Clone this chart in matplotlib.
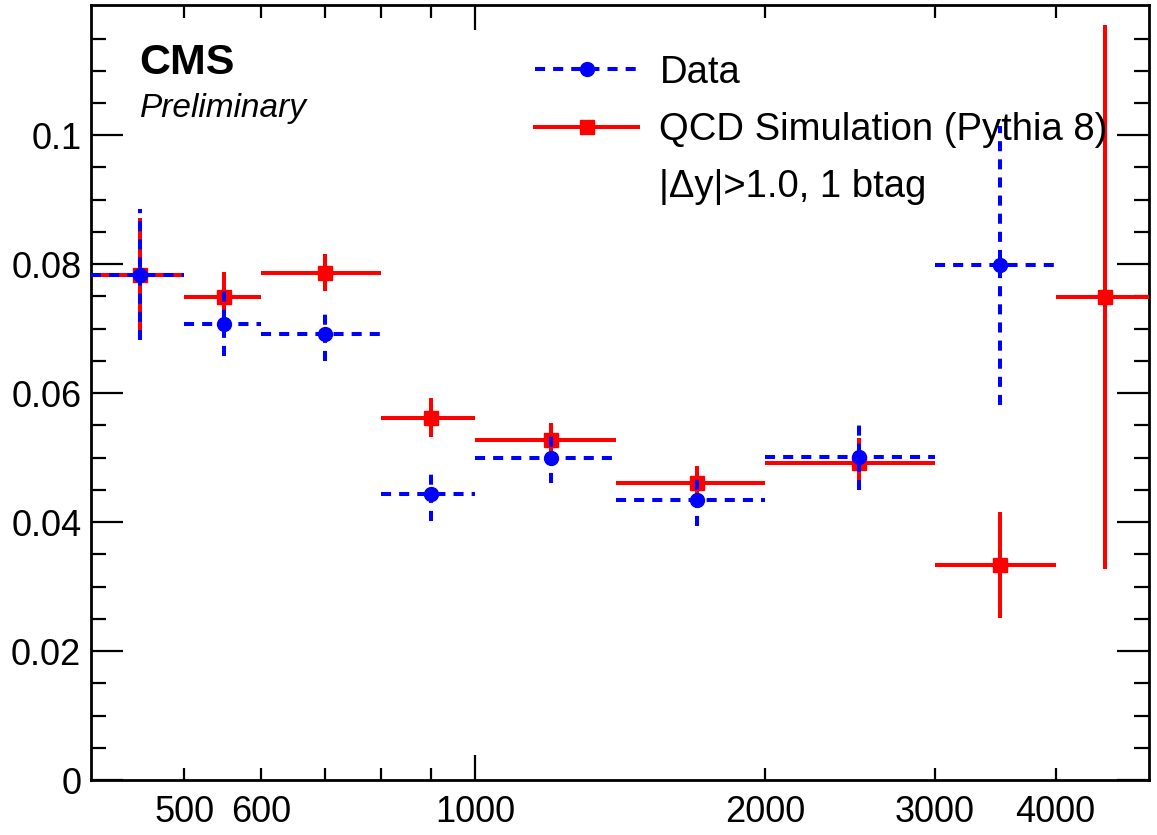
import matplotlib
matplotlib.use("Agg")
import matplotlib.pyplot as plt
from matplotlib.lines import Line2D
from matplotlib.ticker import FixedLocator, FuncFormatter
import numpy as np

plt.rcParams['font.family'] = ['Liberation Sans', 'DejaVu Sans']

# bin edges (mass, GeV) and bin centres
bin_lo = np.array([400, 500, 600, 800, 1000, 1400, 2000, 3000, 4000])
bin_hi = np.array([500, 600, 800, 1000, 1400, 2000, 3000, 4000, 5000])

# data: first 8 bins
data_val = np.array([0.0784, 0.0708, 0.0691, 0.0444, 0.0500, 0.0435, 0.0501, 0.0798])
data_err = np.array([0.0101, 0.0050, 0.0041, 0.0042, 0.0040, 0.0041, 0.0051, 0.0216])

# QCD simulation: all 9 bins
mc_val = np.array([0.0784, 0.0749, 0.0787, 0.0562, 0.0527, 0.0460, 0.0491, 0.0333, 0.0749])
mc_err = np.array([0.0088, 0.0039, 0.0029, 0.0030, 0.0027, 0.0027, 0.0040, 0.0082, 0.0422])

x_tick_labels = {500: '500', 600: '600', 2000: '2000', 3000: '3000', 4000: '4000'}
y_major = [0.0, 0.02, 0.04, 0.06, 0.08, 0.10]
y_minor = [i * 0.005 for i in range(1, 24) if i % 4 != 0]

fig = plt.figure(figsize=(11.57, 8.35), dpi=100)
ax = fig.add_axes([91/1157, 55/835, 1058/1157, 775/835])

xc = (bin_lo + bin_hi) / 2.0

n_mc = len(mc_val)
mc_bars = ax.errorbar(xc[:n_mc], mc_val, yerr=mc_err,
                      xerr=[xc[:n_mc] - bin_lo[:n_mc], bin_hi[:n_mc] - xc[:n_mc]],
                      fmt='s', color='red', ms=10, elinewidth=2.9, capsize=0, zorder=3)

n_d = len(data_val)
data_bars = ax.errorbar(xc[:n_d], data_val, yerr=data_err,
                        xerr=[xc[:n_d] - bin_lo[:n_d], bin_hi[:n_d] - xc[:n_d]],
                        fmt='o', color='blue', ms=10, elinewidth=2.9, capsize=0, zorder=4)
for lc in data_bars[2]:
    lc.set_linestyle((0, (2.5, 2.0)))

ax.set_xscale('log')
ax.set_xlim(400, 5000)
ax.set_ylim(0, 0.1202)

ax.xaxis.set_major_locator(FixedLocator([1000]))
ax.xaxis.set_minor_locator(FixedLocator([500, 600, 700, 800, 900, 2000, 3000, 4000]))
ax.xaxis.set_major_formatter(FuncFormatter(lambda v, p: '%d' % v))
ax.xaxis.set_minor_formatter(FuncFormatter(lambda v, p: x_tick_labels.get(int(round(v)), '')))

ax.yaxis.set_major_locator(FixedLocator(y_major))
ax.yaxis.set_minor_locator(FixedLocator(y_minor))
ax.yaxis.set_major_formatter(FuncFormatter(lambda v, p: '%g' % round(v, 4)))

ax.tick_params(which='both', direction='in', top=True, right=True, width=1.6,
               labelsize=26, colors='black')
ax.tick_params(axis='y', which='major', length=23, pad=7)
ax.tick_params(axis='y', which='minor', length=11)
ax.tick_params(axis='x', which='major', length=18, pad=11)
ax.tick_params(axis='x', which='minor', length=9, pad=11)
for s in ax.spines.values():
    s.set_linewidth(2.0)

ax.text(0.046, 0.925, 'CMS', transform=ax.transAxes, fontsize=31,
        fontweight='bold', va='center', ha='left')
ax.text(0.046, 0.867, 'Preliminary', transform=ax.transAxes, fontsize=24,
        fontstyle='italic', va='center', ha='left')

h_data = Line2D([], [], color='blue', lw=2.9, ls=(0, (2.5, 2.0)), marker='o', ms=10)
h_mc = Line2D([], [], color='red', lw=2.9, ls='-', marker='s', ms=10)
h_txt = Line2D([], [], color='none')
ax.legend([h_data, h_mc, h_txt],
          ['Data', 'QCD Simulation (Pythia 8)', '|\u0394y|>1.0, 1 btag'],
          loc='upper left', bbox_to_anchor=(0.42, 0.936), frameon=False,
          fontsize=27.5, handlelength=2.7, handletextpad=0.55,
          borderpad=0, borderaxespad=0, labelspacing=0.56)

fig.savefig('out.png', dpi=100)
